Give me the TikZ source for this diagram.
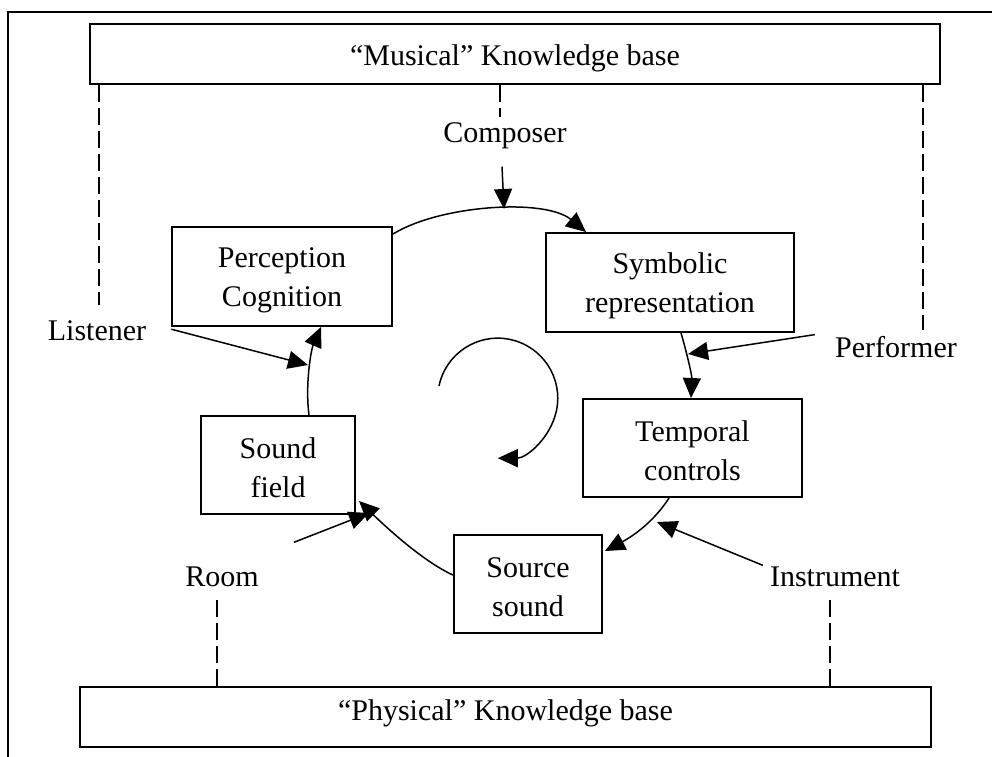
\documentclass[tikz,border=0pt]{standalone}
\usepackage{fontspec}
\setmainfont{Liberation Serif}
\usetikzlibrary{arrows.meta,calc}
\newcommand{\topstrut}{\rule{0pt}{27pt}}
\begin{document}
\begin{tikzpicture}[x=1pt,y=-1pt,
  every node/.style={font=\fontsize{30}{39}\selectfont},
  box/.style={draw, line width=2pt, align=center, inner sep=0pt},
  lbl/.style={anchor=base, inner sep=0pt},
  flow/.style={line width=1.5pt, -{Triangle[length=20pt,width=18pt]}},
  kbline/.style={line width=1.6pt, dash pattern=on 17pt off 6pt},
]
\useasboundingbox (0,0) rectangle (992,756);
\draw[line width=2pt] (8,758) -- (8,12) -- (994,12);

% knowledge bases
\node[box, minimum width=850pt, minimum height=60pt, text height=28pt, text depth=6pt] (mkb) at (515,54) {“Musical” Knowledge base};
\node[box, minimum width=851pt, minimum height=60pt, text height=18pt, text depth=12pt] (pkb) at (505.5,717) {“Physical” Knowledge base};

% process boxes
\node[box, minimum width=220pt, minimum height=99pt] (perc) at (282,276.5) {\topstrut Perception\\Cognition};
\node[box, minimum width=248pt, minimum height=99pt] (symb) at (670,282.5) {\topstrut Symbolic\\representation};
\node[box, minimum width=219pt, minimum height=98pt] (temp) at (692.5,448) {\topstrut Temporal\\controls};
\node[box, minimum width=154pt, minimum height=98pt] (sound) at (278,465) {\topstrut Sound\\field};
\node[box, minimum width=148pt, minimum height=98pt] (source) at (528,584) {\topstrut Source\\sound};

% agents
\node[lbl] (comp) at (505,142) {Composer};
\node[lbl] (lst) at (97,340) {Listener};
\node[lbl] (perf) at (896,357) {Performer};
\node[lbl] (room) at (222,586) {Room};
\node[lbl] (instr) at (835,586) {Instrument};

% free ends of the dashed links
\coordinate (dL) at (99,305);
\coordinate (dC) at (500,117);
\coordinate (dR) at (923,330);
\coordinate (dRoom) at (217,600);
\coordinate (dInst) at (830,600);
\draw[kbline] (mkb.south -| dL) -- (dL);
\draw[kbline] (mkb.south -| dC) -- (dC);
\draw[kbline] (mkb.south -| dR) -- (dR);
\draw[kbline] (pkb.north -| dRoom) -- (dRoom);
\draw[kbline] (pkb.north -| dInst) -- (dInst);

% cycle
\draw[flow] ($(perc.north east)+(0,8)$) .. controls (440,205) and (545,198) .. ($(symb.north west)+(41,0)$);
\draw[flow] ($(symb.south west)+(136,0)$) .. controls (686,350) and (692,375) .. ($(temp.north west)+(109,0)$);
\draw[flow] ($(temp.south west)+(87,0)$) .. controls (655,520) and (635,535) .. ($(source.north east)+(2,17)$);
\draw[flow] ($(source.west)+(0,-9)$) .. controls (424,562) and (387,528) .. ($(sound.south east)+(3,-14)$);
\draw[flow] ($(sound.north west)+(109,0)$) .. controls (305,385) and (311,350) .. ($(perc.south west)+(150,0)$);

% agent inputs
\coordinate (cTip) at (504,209);
\coordinate (pTip) at (688,354);
\coordinate (iTip) at (657,522);
\coordinate (rTip) at (369,513);
\coordinate (lTip) at (308,365);
\draw[flow] ($(comp.south)+(-3,18)$) -- (cTip);
\draw[flow] ($(perf.west)+(-20,-12)$) -- (pTip);
\draw[flow] ($(instr.west)+(-7,-11)$) -- (iTip);
\draw[flow] ($(room.east)+(35,-34)$) -- (rTip);
\draw[flow] ($(lst.east)+(25,-1)$) -- (lTip);

% rotation symbol
\draw[flow] (439,386) arc[start angle=191.7, end angle=450, radius=60];
\end{tikzpicture}
\end{document}
